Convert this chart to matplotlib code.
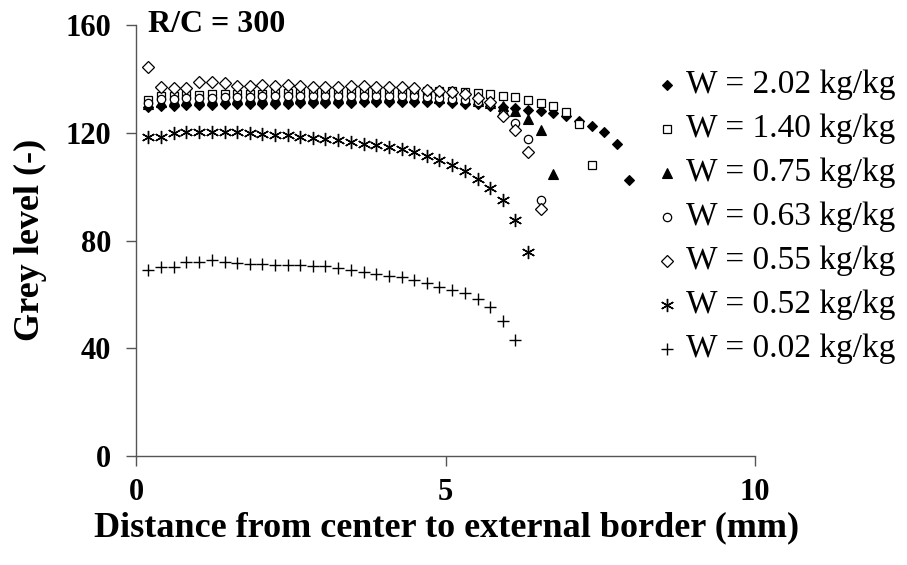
import matplotlib
matplotlib.use("Agg")
import matplotlib.pyplot as plt

# sampling positions along the radius (mm)
distance = [0.20, 0.40, 0.61, 0.81, 1.02, 1.22, 1.43, 1.63, 1.84, 2.04,
            2.25, 2.45, 2.65, 2.86, 3.06, 3.27, 3.47, 3.68, 3.88, 4.09,
            4.29, 4.49, 4.70, 4.90, 5.11, 5.31, 5.52, 5.72, 5.93, 6.13,
            6.34, 6.54, 6.74, 6.95, 7.15, 7.36, 7.56, 7.77, 7.97]

w_202 = [129.5, 130.0, 130.0, 130.2, 130.3, 130.3, 130.5, 130.5, 130.6, 130.6,
         130.8, 130.8, 131.0, 131.0, 131.0, 131.2, 131.2, 131.3, 131.3, 131.4,
         131.5, 131.5, 131.5, 131.4, 131.2, 130.8, 130.5, 129.9, 129.6, 129.2,
         128.6, 128.0, 127.4, 126.1, 124.3, 122.4, 120.2, 116.0, 102.3]
w_140 = [132.0, 133.5, 133.8, 134.0, 134.0, 134.2, 134.2, 134.3, 134.5, 134.5,
         134.6, 134.8, 134.8, 135.0, 135.0, 135.2, 135.2, 135.3, 135.4, 135.4,
         135.5, 135.5, 135.5, 135.4, 135.4, 135.1, 134.6, 134.2, 133.8, 133.2,
         132.3, 131.1, 129.9, 127.8, 123.3, 108.2]
w_075 = [130.5, 131.5, 132.0, 132.2, 132.5, 132.5, 132.6, 132.8, 132.8, 133.0,
         133.0, 133.0, 133.2, 133.2, 133.3, 133.3, 133.4, 133.4, 133.5, 133.5,
         133.4, 133.3, 133.2, 133.0, 132.8, 132.4, 131.8, 131.0, 129.9, 128.0,
         125.2, 121.2, 104.8]
w_063 = [131.0, 132.5, 132.6, 132.8, 133.0, 133.0, 133.2, 133.3, 133.3, 133.5,
         133.5, 133.6, 133.6, 133.7, 133.7, 133.8, 133.8, 133.8, 133.8, 133.7,
         133.6, 133.5, 133.3, 133.0, 132.6, 132.0, 131.5, 130.5, 127.0, 123.8,
         117.7, 95.0]
w_055 = [144.5, 137.0, 136.6, 136.6, 139.0, 139.0, 138.5, 137.3, 137.3, 137.9,
         137.3, 137.6, 137.3, 137.0, 137.0, 137.0, 137.5, 137.3, 137.0, 137.0,
         136.8, 136.5, 136.0, 135.5, 135.0, 134.2, 133.0, 131.5, 126.1, 121.0,
         112.9, 91.7]
w_052 = [118.3, 118.5, 120.0, 120.3, 120.3, 120.2, 120.2, 120.2, 120.0, 119.7,
         119.3, 119.3, 118.5, 118.0, 117.5, 117.2, 116.6, 116.0, 115.4, 114.8,
         113.8, 112.9, 111.5, 110.0, 108.0, 105.7, 102.9, 99.5, 95.2, 87.7,
         75.6]
w_002 = [69.1, 70.1, 70.1, 71.9, 72.2, 72.6, 72.2, 71.6, 71.4, 71.4,
         71.0, 71.0, 71.0, 70.6, 70.4, 69.8, 68.9, 68.2, 67.7, 66.9,
         66.4, 65.4, 64.2, 62.9, 61.7, 60.5, 58.3, 55.3, 50.2, 42.9]

labels = ["W = 2.02 kg/kg", "W = 1.40 kg/kg", "W = 0.75 kg/kg", "W = 0.63 kg/kg",
          "W = 0.55 kg/kg", "W = 0.52 kg/kg", "W = 0.02 kg/kg"]

# marker, face colour, size, edge width
styles = [
    ("D", "black", 5.5, 0.8),
    ("s", "white", 5.5, 0.9),
    ("^", "black", 6.5, 0.8),
    ("o", "white", 6.0, 0.9),
    ("D", "white", 6.0, 0.9),
    ((6, 2, 0), "black", 9.5, 1.0),
    ("+", "black", 9.0, 1.0),
]

SERIF = ["Liberation Serif", "DejaVu Serif"]
plt.rcParams["font.family"] = SERIF

W, H = 907, 565
fig = plt.figure(figsize=(W / 100, H / 100), dpi=100)
fig.patch.set_facecolor("white")

# axes box in pixels: left spine at 136, x=10 at 755, y=0 at 456, y=160 at 25
x0, x1, y0, y1 = 136, 755, 456, 25
ax = fig.add_axes([x0 / W, (H - y0) / H, (x1 - x0) / W, (y0 - y1) / H])

all_values = [w_202, w_140, w_075, w_063, w_055, w_052, w_002]
for values, (mk, face, ms, mew) in zip(all_values, styles):
    ax.plot(distance[:len(values)], values, linestyle="none", marker=mk, ms=ms,
            mfc=face, mec="black", mew=mew, clip_on=False)

ax.set_xlim(0, 10)
ax.set_ylim(0, 160)
ax.set_xticks([0, 5, 10])
ax.set_yticks([0, 40, 80, 120, 160])
for side in ("top", "right"):
    ax.spines[side].set_visible(False)
for side in ("left", "bottom"):
    ax.spines[side].set_color("#555555")
    ax.spines[side].set_linewidth(1.0)
ax.tick_params(axis="both", direction="out", length=7, width=1.0, color="#555555",
               labelsize=22, labelcolor="black")
ax.tick_params(axis="y", pad=11)
ax.tick_params(axis="x", pad=9)
for lab in ax.get_xticklabels() + ax.get_yticklabels():
    lab.set_fontweight("bold")

fig.text(447 / W, 1 - 528 / H, "Distance from center to external border (mm)",
         ha="center", va="center", fontsize=26, fontweight="bold")
fig.text(30 / W, 1 - 240 / H, "Grey level (-)", ha="center", va="center",
         rotation=90, fontsize=26, fontweight="bold")
fig.text(148 / W, 1 - 25 / H, "R/C = 300", ha="left", va="center",
         fontsize=23, fontweight="bold")

# legend drawn by hand in pixel coordinates
leg = fig.add_axes([0, 0, 1, 1], facecolor="none")
leg.set_xlim(0, W)
leg.set_ylim(H, 0)
leg.axis("off")
row_y = [85, 129, 173, 217, 261, 305, 349]
for yy, text, (mk, face, ms, mew) in zip(row_y, labels, styles):
    leg.plot([667], [yy], linestyle="none", marker=mk, ms=ms, mfc=face,
             mec="black", mew=mew)
    leg.text(686, yy, text, ha="left", va="center", fontsize=24)

fig.savefig("out.png", dpi=100, facecolor="white")
